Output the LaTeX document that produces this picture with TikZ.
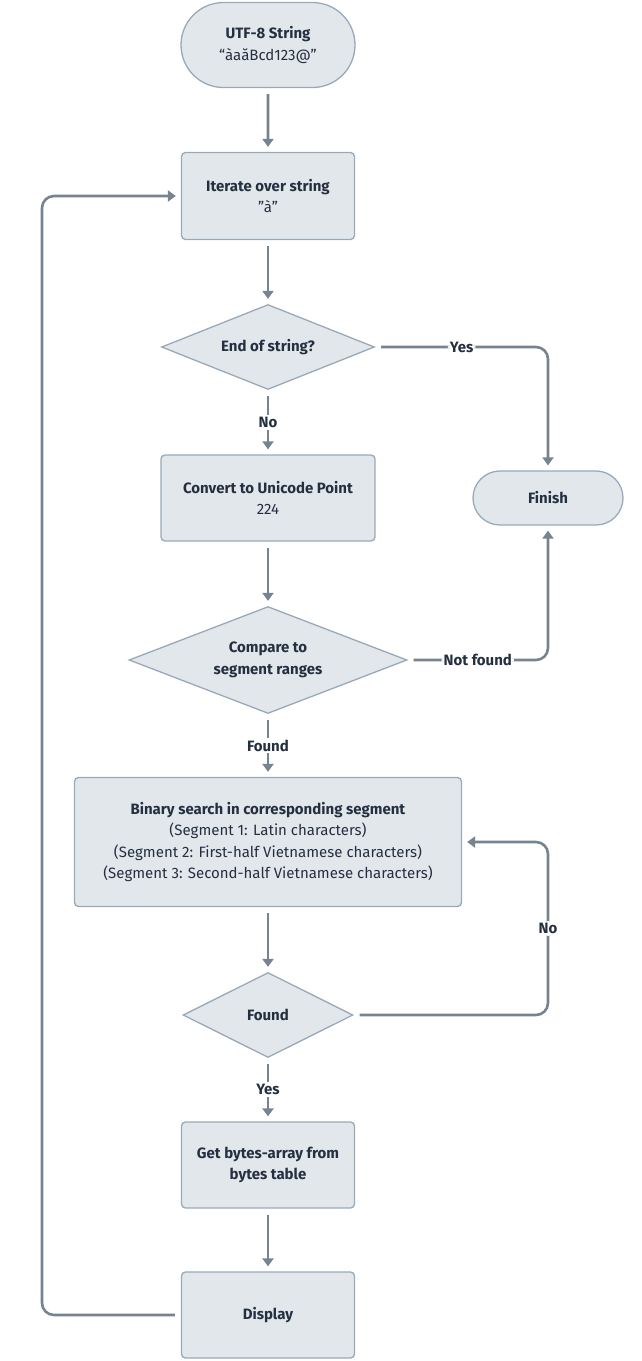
\documentclass[tikz,border=0pt]{standalone}
\usepackage{fontspec}
\setmainfont{Fira Sans}
\usepackage{tikz}
\usetikzlibrary{positioning, arrows.meta, shapes.geometric, shapes.misc, calc}
\definecolor{boxfill}{RGB}{226,231,236}
\definecolor{boxline}{RGB}{154,169,184}
\definecolor{flowline}{RGB}{118,131,145}
\definecolor{txtcolor}{RGB}{36,48,64}

\tikzset{
    base/.style={fill=boxfill, draw=boxline, line width=1.3pt, text=txtcolor, align=center,
        font=\fontsize{15}{21.5}\selectfont, inner sep=0pt},
    procbox/.style={base, rectangle, rounded corners=4pt},
    termbox/.style={base, rounded rectangle},
    decbox/.style={base, diamond, aspect=2.5},
    flow/.style={-{Triangle[length=8pt, width=11pt]}, line width=2.6pt, flowline,
        shorten >=5pt, shorten <=6pt},
    lbl/.style={fill=white, text=txtcolor, font=\fontsize{15}{17}\selectfont\bfseries, inner sep=2pt}
}

\begin{document}
\begin{tikzpicture}[x=1pt, y=-1pt]
    \useasboundingbox (0,0) rectangle (641,1361);

    % === NOEUDS ===
    \node[termbox, minimum width=174pt, minimum height=85pt] (start) at (268,45)
        {\textbf{UTF-8 String}\\“àaăBcd123@”};
    \node[procbox, minimum width=173pt, minimum height=87pt] (iter) at (268,196)
        {\textbf{Iterate over string}\\”à”};
    \node[decbox, minimum width=213pt, minimum height=85pt] (endq) at (268,347)
        {\textbf{End of string?}};
    \node[procbox, minimum width=214pt, minimum height=86pt] (conv) at (268,498)
        {\textbf{Convert to Unicode Point}\\224};
    \node[termbox, minimum width=150pt, minimum height=54pt] (fin) at (548,498)
        {\textbf{Finish}};
    \node[decbox, minimum width=278pt, minimum height=107pt] (cmp) at (268,660)
        {\textbf{Compare to}\\\textbf{segment ranges}};
    \node[procbox, minimum width=387pt, minimum height=129pt] (bin) at (268,842)
        {\textbf{Binary search in corresponding segment}\\(Segment 1: Latin characters)\\(Segment 2: First-half Vietnamese characters)\\(Segment 3: Second-half Vietnamese characters)};
    \node[decbox, minimum width=170pt, minimum height=85pt] (fnd) at (268,1015)
        {\textbf{Found}};
    \node[procbox, minimum width=173pt, minimum height=86pt] (bytes) at (268,1165)
        {\textbf{Get bytes-array from}\\\textbf{bytes table}};
    \node[procbox, minimum width=173pt, minimum height=86pt] (disp) at (268,1315)
        {\textbf{Display}};

    % colonne de retour a gauche
    \coordinate (loopx) at (42,0);

    % === FLECHES ===
    \draw[flow] (start) -- (iter);
    \draw[flow] (iter) -- (endq);
    \draw[flow] (endq) -- node[lbl] {No} (conv);
    \draw[flow, rounded corners=12pt] (endq.east) -| node[lbl, pos=0.25] {Yes} (fin.north);
    \draw[flow] (conv) -- (cmp);
    \draw[flow, rounded corners=12pt] (cmp.east) -| node[lbl, pos=0.25] {Not found} (fin.south);
    \draw[flow] (cmp) -- node[lbl] {Found} (bin);
    \draw[flow] (bin) -- (fnd);
    \draw[flow, rounded corners=12pt] (fnd.east) -- (fnd.east -| fin.south)
        -- node[lbl] {No} (bin.east -| fin.south) -- (bin.east);
    \draw[flow] (fnd) -- node[lbl] {Yes} (bytes);
    \draw[flow] (bytes) -- (disp);
    \draw[flow, rounded corners=12pt] (disp.west) -- (disp.west -| loopx)
        -- (iter.west -| loopx) -- (iter.west);

\end{tikzpicture}
\end{document}
